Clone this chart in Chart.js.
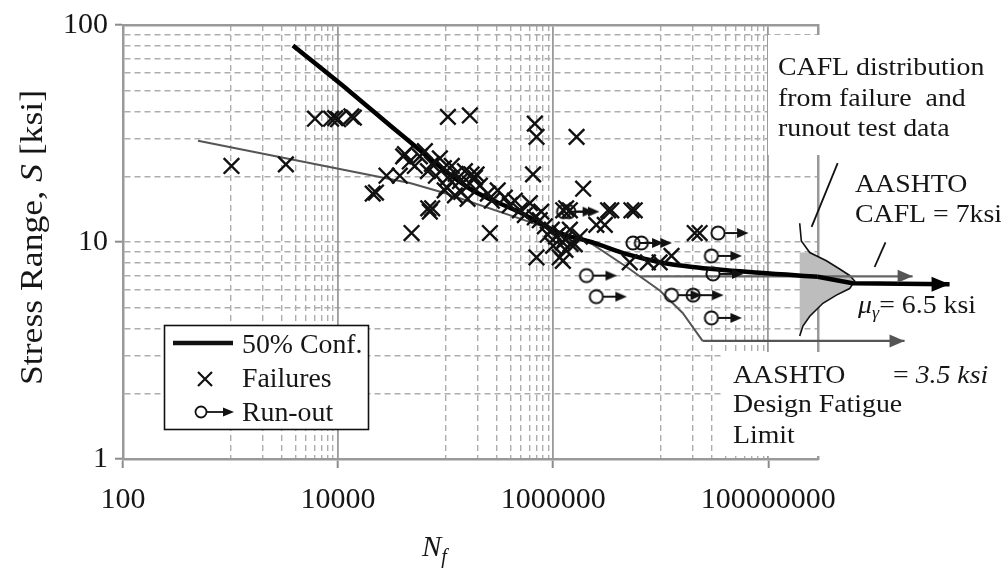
<!DOCTYPE html>
<html>
<head>
<meta charset="utf-8">
<script src="https://cdn.jsdelivr.net/npm/chart.js@4.4.1/dist/chart.umd.min.js"></script>
<style>
  html, body { margin: 0; padding: 0; background: #fff; }
</style>
</head>
<body>
<canvas id="snChart" width="1001" height="573"></canvas>
<script>
const SERIF = '"Liberation Serif", "Times New Roman", serif';

// axis ticks
const xMajorTicks = [100, 10000, 1000000, 100000000];
const xMinorDecades = [1000, 100000, 10000000];
const xMinorTicks = xMinorDecades.flatMap(d => [1, 2, 3, 4, 5, 6, 7, 8, 9].map(k => d * k));
const xTicks = [...xMajorTicks, ...xMinorTicks].sort((a, b) => a - b);
const yMajorTicks = [1, 10, 100];
const yMinorTicks = [2, 3, 4, 5, 6, 7, 8, 9, 20, 30, 40, 50, 60, 70, 80, 90];
const yTicks = [...yMajorTicks, ...yMinorTicks].sort((a, b) => a - b);

// failure tests [N, S ksi]
const failures = [
  [1020, 22.4], [3270, 22.8],
  [6100, 37.0], [8600, 37.0], [9400, 37.2], [10000, 36.8], [13300, 37.9], [14000, 37.4],
  [21000, 16.7], [22500, 16.9], [28200, 20.2], [37500, 20.2], [40300, 24.8],
  [41800, 25.4], [46400, 23.5], [51700, 22.4], [57600, 24.8], [64100, 26.2], [68400, 21.2],
  [74500, 22.9], [81200, 20.2], [88400, 24.3], [96200, 21.9], [98000, 17.3],
  [105000, 19.8], [114000, 22.4], [124000, 20.6], [122000, 16.4], [136000, 19.1], [140000, 17.0],
  [151000, 21.2], [160000, 15.8], [168000, 18.6], [187000, 19.8], [208000, 18.2],
  [247000, 16.7], [269000, 15.5], [305000, 17.3], [355000, 16.0], [395000, 14.8], [440000, 15.5],
  [490000, 14.0], [545000, 13.3], [607000, 15.1], [675000, 13.0], [751000, 12.6], [836000, 11.8],
  [891000, 10.8], [971000, 11.4], [1060000, 10.6], [1150000, 11.0], [1280000, 10.3], [1430000, 11.4],
  [1590000, 9.75], [1770000, 10.6], [1000000, 9.6], [1300000, 9.2], [1450000, 9.8],
  [105000, 37.7], [168000, 38.3], [675000, 35.1], [700000, 30.5], [1650000, 30.5],
  [650000, 20.5], [1900000, 17.6], [174000, 20.5], [194000, 20.5], [102000, 17.9],
  [68900, 14.3], [75000, 14.3], [48200, 11.0], [71300, 13.8], [258000, 11.0],
  [700000, 8.49], [1150000, 8.49], [775000, 13.8], [1320000, 14.3],
  [1240000, 14.0], [1430000, 14.0], [2520000, 12.0], [3020000, 12.0], [3240000, 14.0],
  [3470000, 14.0], [5340000, 14.0], [5730000, 14.0],
  [1230000, 9.96], [1230000, 8.18], [5150000, 8.05], [7600000, 8.05], [9770000, 8.05], [12600000, 8.63],
  [20700000, 11.0], [23000000, 11.0]
];

// run-out tests [N, S ksi]
const runouts = [
  [1250000, 13.8], [1400000, 13.8], [5530000, 9.9], [6600000, 9.9], [2040000, 7.0], [2520000, 5.6],
  [12600000, 5.69], [20000000, 5.69], [29600000, 8.63], [30600000, 7.13], [29600000, 4.47], [34100000, 11.0]
];

// 50% confidence curve
const conf50N = [3800, 12900, 37500, 168000, 490000, 1150000, 2330000, 4830000, 9800000, 19800000, 83000000, 288000000];
const conf50S = [80.4, 49.3, 31.6, 17.6, 13.7, 11.0, 9.95, 8.79, 8.07, 7.67, 7.21, 6.92];
const conf50ArrowN = [4.85e9, 6.08e8, 2.88e8];
const conf50ArrowS = [6.38, 6.45, 6.92];

// AASHTO curve, CAFL and design limit
const aashtoN = [498, 46500, 94200, 1150000, 2330000, 4830000, 6380000, 9800000, 16000000, 24500000];
const aashtoS = [29.3, 18.7, 16.9, 11.1, 9.75, 7.67, 6.95, 5.98, 4.71, 3.5];
const caflN = [2.2e9, 6.38e6];
const caflS = [6.95, 6.95];
const limitN = [1.85e9, 2.45e7];
const limitS = [3.5, 3.5];

// CAFL distribution (sideways density)
const distN = [1.96e8, 2.03e8, 2.43e8, 3.47e8, 4.61e8, 5.71e8, 6.36e8, 5.71e8, 4.30e8, 3.22e8, 2.43e8, 2.10e8, 1.96e8];
const distS = [12.2, 10.1, 8.94, 8.19, 7.51, 7.01, 6.61, 6.10, 5.69, 5.22, 4.55, 4.10, 3.69];
const distEdgeN = 1.96e8;

// leader lines
const leader1N = [4.42e8, 2.53e8];
const leader1S = [23.1, 11.75];
const leader2N = [1.23e9, 9.75e8];
const leader2S = [9.95, 7.67];

const toPts = (ns, ss) => ns.map((n, i) => ({x: n, y: ss[i]}));
const isXMajor = v => xMajorTicks.includes(v);

function makeRunoutMarker() {
  const c = document.createElement('canvas');
  c.width = 70;
  c.height = 20;
  const g = c.getContext('2d');
  g.strokeStyle = '#111';
  g.fillStyle = '#111';
  g.lineWidth = 2;
  g.beginPath(); g.arc(35, 10, 6.6, 0, Math.PI * 2); g.stroke();
  g.beginPath(); g.moveTo(41.6, 10); g.lineTo(56, 10); g.stroke();
  g.beginPath(); g.moveTo(65.5, 10); g.lineTo(54, 5); g.lineTo(54, 15); g.closePath(); g.fill();
  return c;
}

function drawParts(ctx, parts, x, y, sx) {
  ctx.save();
  ctx.translate(x, y);
  ctx.scale(sx, 1);
  let cx = 0;
  for (const p of parts) {
    ctx.font = p.font;
    ctx.fillText(p.t, cx, p.dy || 0);
    cx += ctx.measureText(p.t).width;
  }
  ctx.restore();
}

const f = (size, italic) => (italic ? 'italic ' : '') + size + 'px ' + SERIF;

const annotate = {
  id: 'annotate',
  beforeDatasetsDraw(chart) {
    const {ctx, scales: {x, y}} = chart;
    ctx.save();
    ctx.fillStyle = '#fff';
    ctx.fillRect(768, 35, 233, 120);
    ctx.fillRect(723, 352, 240, 104);

    ctx.beginPath();
    ctx.moveTo(x.getPixelForValue(distEdgeN), y.getPixelForValue(distS[2]));
    for (let i = 2; i < distN.length; i++) {
      ctx.lineTo(x.getPixelForValue(distN[i]), y.getPixelForValue(distS[i]));
    }
    ctx.lineTo(x.getPixelForValue(distEdgeN), y.getPixelForValue(distS[distS.length - 1]));
    ctx.closePath();
    ctx.fillStyle = '#bdbdbd';
    ctx.fill();
    ctx.restore();
  },
  afterDatasetsDraw(chart) {
    const {ctx, scales: {x, y}} = chart;
    ctx.save();

    // arrow heads
    chart.data.datasets.forEach(ds => {
      if (!ds.arrowHead) return;
      const tip = ds.data[0];
      const px = x.getPixelForValue(tip.x);
      const py = y.getPixelForValue(tip.y);
      const {len, half, color} = ds.arrowHead;
      ctx.fillStyle = color;
      ctx.beginPath();
      ctx.moveTo(px, py);
      ctx.lineTo(px - len, py - half);
      ctx.lineTo(px - len, py + half);
      ctx.closePath();
      ctx.fill();
    });

    ctx.fillStyle = '#161616';
    ctx.textBaseline = 'alphabetic';
    const sx = 1.07;
    drawParts(ctx, [{t: 'CAFL distribution', font: f(26)}], 778, 75, sx);
    drawParts(ctx, [{t: 'from failure  and', font: f(26)}], 778, 106, sx);
    drawParts(ctx, [{t: 'runout test data', font: f(26)}], 778, 136, sx);
    drawParts(ctx, [{t: 'AASHTO', font: f(26)}], 855, 192, sx);
    drawParts(ctx, [{t: 'CAFL = 7ksi', font: f(26)}], 855, 222, sx);
    drawParts(ctx, [
      {t: 'μ', font: f(26, true)},
      {t: 'γ', font: f(17, true), dy: 5},
      {t: '= 6.5 ksi', font: f(26)}
    ], 858, 313, sx);
    drawParts(ctx, [{t: 'AASHTO', font: f(26)}], 733, 383, sx);
    drawParts(ctx, [{t: '= ', font: f(26)}, {t: '3.5 ksi', font: f(26, true)}], 893, 383, sx);
    drawParts(ctx, [{t: 'Design Fatigue', font: f(26)}], 733, 412, sx);
    drawParts(ctx, [{t: 'Limit', font: f(26)}], 733, 443, sx);

    // x title
    drawParts(ctx, [{t: 'N', font: f(29, true)}, {t: 'f', font: f(20, true), dy: 7}], 422, 556, 1);

    // y title
    ctx.save();
    ctx.translate(42, 237.5);
    ctx.rotate(-Math.PI / 2);
    const yParts = [
      {t: 'Stress Range, ', font: f(31)},
      {t: 'S', font: f(31, true)},
      {t: ' [ksi]', font: f(31)}
    ];
    let tw = 0;
    for (const p of yParts) { ctx.font = p.font; tw += ctx.measureText(p.t).width; }
    const ysx = 1.15;
    drawParts(ctx, yParts, -tw * ysx / 2, 0, ysx);
    ctx.restore();

    // legend
    ctx.fillStyle = '#fff';
    ctx.fillRect(164, 325, 204, 104);
    ctx.strokeStyle = '#111';
    ctx.lineWidth = 1.6;
    ctx.strokeRect(164.5, 325.5, 204, 104);
    ctx.lineWidth = 4.5;
    ctx.beginPath(); ctx.moveTo(173, 343); ctx.lineTo(233, 343); ctx.stroke();
    ctx.lineWidth = 2.2;
    ctx.beginPath();
    ctx.moveTo(198, 372); ctx.lineTo(212, 386);
    ctx.moveTo(212, 372); ctx.lineTo(198, 386);
    ctx.stroke();
    ctx.lineWidth = 1.8;
    ctx.beginPath(); ctx.arc(201, 412, 5.5, 0, Math.PI * 2); ctx.stroke();
    ctx.beginPath(); ctx.moveTo(206.5, 412); ctx.lineTo(225, 412); ctx.stroke();
    ctx.fillStyle = '#111';
    ctx.beginPath(); ctx.moveTo(234, 412); ctx.lineTo(223, 407.5); ctx.lineTo(223, 416.5); ctx.closePath(); ctx.fill();
    ctx.fillStyle = '#161616';
    drawParts(ctx, [{t: '50% Conf.', font: f(27)}], 242, 353, 1.03);
    drawParts(ctx, [{t: 'Failures', font: f(27)}], 242, 387, 1.03);
    drawParts(ctx, [{t: 'Run-out', font: f(27)}], 242, 421, 1.03);

    ctx.restore();
  }
};

const lineDs = (data, color, width, extra) => Object.assign({
  data, showLine: true, borderColor: color, borderWidth: width, pointRadius: 0, fill: false
}, extra || {});

new Chart(document.getElementById('snChart'), {
  type: 'scatter',
  data: {
    datasets: [
      {
        label: 'Failures',
        data: failures.map(([n, s]) => ({x: n, y: s})),
        pointStyle: 'crossRot',
        pointRadius: 11,
        pointBorderWidth: 2.4,
        pointBorderColor: '#111',
        pointBackgroundColor: '#111'
      },
      {
        label: 'Run-out',
        data: runouts.map(([n, s]) => ({x: n, y: s})),
        pointStyle: makeRunoutMarker(),
        pointRadius: 8
      },
      lineDs(toPts(conf50N, conf50S), '#000', 4.5, {label: '50% Conf.', cubicInterpolationMode: 'monotone'}),
      lineDs(toPts(conf50ArrowN, conf50ArrowS), '#000', 4.5, {clip: false, arrowHead: {len: 18, half: 7.5, color: '#000'}}),
      lineDs(toPts(aashtoN, aashtoS), '#555', 2),
      lineDs(toPts(caflN, caflS), '#666', 2.2, {clip: false, arrowHead: {len: 15, half: 6.5, color: '#555'}}),
      lineDs(toPts(limitN, limitS), '#555', 2.2, {clip: false, arrowHead: {len: 15, half: 6.5, color: '#555'}}),
      lineDs(toPts(distN, distS), '#111', 1.6, {clip: false}),
      lineDs(toPts(leader1N, leader1S), '#111', 1.8, {clip: false}),
      lineDs(toPts(leader2N, leader2S), '#111', 1.8, {clip: false})
    ]
  },
  options: {
    responsive: false,
    animation: false,
    events: [],
    devicePixelRatio: 1,
    layout: {padding: {top: 16, right: 183, left: 0, bottom: 0}},
    plugins: {legend: {display: false}, tooltip: {enabled: false}},
    scales: {
      x: {
        type: 'logarithmic',
        position: 'bottom',
        min: 100,
        max: 2.9e8,
        afterBuildTicks: s => { s.ticks = xTicks.map(v => ({value: v})); },
        afterFit: s => { s.height = 114; },
        grid: {
          color: c => (c.tick && isXMajor(c.tick.value)) ? 'rgba(0,0,0,0)' : '#adadad',
          lineWidth: 1.4,
          tickColor: c => (c.tick && isXMajor(c.tick.value)) ? '#8c8c8c' : 'rgba(0,0,0,0)',
          tickLength: 9,
          tickWidth: 2
        },
        border: {display: true, color: '#999', width: 2.5, dash: [6, 4]},
        ticks: {
          autoSkip: false, maxRotation: 0, padding: 14, color: '#161616',
          font: {family: SERIF, size: 30},
          callback: v => isXMajor(v) ? String(v) : ''
        }
      },
      y: {
        type: 'logarithmic',
        position: 'left',
        min: 1,
        max: 100,
        afterBuildTicks: s => { s.ticks = yTicks.map(v => ({value: v})); },
        afterFit: s => { s.width = 123; },
        grid: {
          color: c => (c.tick && (c.tick.value === 1 || c.tick.value === 100)) ? 'rgba(0,0,0,0)' : '#adadad',
          lineWidth: 1.4,
          tickColor: c => (c.tick && yMajorTicks.includes(c.tick.value)) ? '#8c8c8c' : 'rgba(0,0,0,0)',
          tickLength: 8,
          tickWidth: 2
        },
        border: {display: true, color: '#999', width: 2.5, dash: [6, 4]},
        ticks: {
          autoSkip: false, padding: 7, color: '#161616',
          font: {family: SERIF, size: 30},
          callback: v => yMajorTicks.includes(v) ? String(v) : ''
        }
      },
      x2: {
        type: 'logarithmic',
        position: 'top',
        display: true,
        min: 100,
        max: 2.9e8,
        afterBuildTicks: s => { s.ticks = xMajorTicks.map(v => ({value: v})); },
        afterFit: s => { s.height = 0; },
        grid: {color: '#9a9a9a', lineWidth: 1.8, drawTicks: false},
        border: {display: true, color: '#999', width: 2.5},
        ticks: {display: false}
      },
      y2: {
        type: 'logarithmic',
        position: 'right',
        display: true,
        min: 1,
        max: 100,
        afterFit: s => { s.width = 0; },
        grid: {display: false, drawTicks: false},
        border: {display: true, color: '#999', width: 2.5},
        ticks: {display: false}
      }
    }
  },
  plugins: [annotate]
});
</script>
</body>
</html>
